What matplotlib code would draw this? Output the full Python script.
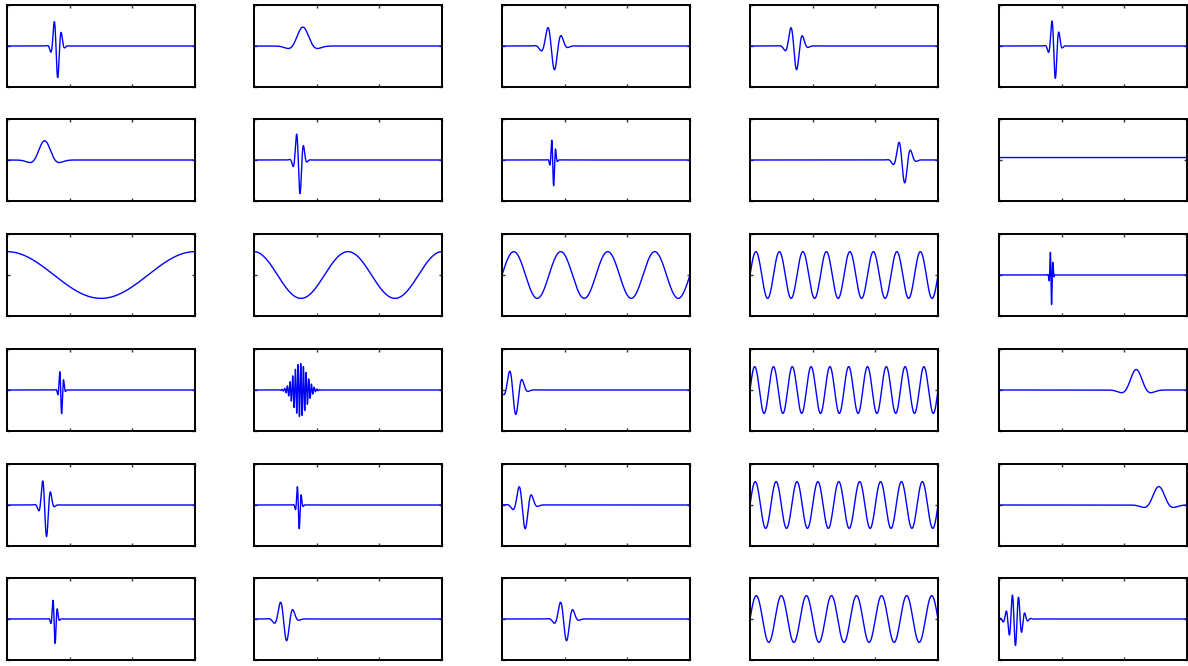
import numpy as np
import matplotlib
matplotlib.use("Agg")
import matplotlib.pyplot as plt

# Atom parameters per panel (row-major, 6 rows x 5 cols)
# amplitude, centre, envelope width (0 = no envelope), frequency (cycles/unit), phase
amps = [0.80, 0.46, 0.60, 0.60, 0.82,
        0.47, 0.85, 0.65, 0.58, 0.06,
        0.57, 0.57, 0.57, 0.57, 0.75,
        0.60, 0.65, 0.62, 0.57, 0.50,
        0.80, 0.60, 0.60, 0.57, 0.45,
        0.62, 0.55, 0.55, 0.57, 0.65]
centers = [0.265, 0.260, 0.270, 0.240, 0.295,
           0.200, 0.240, 0.272, 0.815, 0.000,
           0.000, 0.000, 0.000, 0.000, 0.278,
           0.288, 0.245, 0.065, 0.000, 0.730,
           0.205, 0.238, 0.115, 0.000, 0.850,
           0.253, 0.165, 0.335, 0.000, 0.085]
widths = [0.018, 0.045, 0.035, 0.030, 0.018,
          0.045, 0.018, 0.010, 0.030, 0.0,
          0.0, 0.0, 0.0, 0.0, 0.0064,
          0.010, 0.035, 0.032, 0.0, 0.045,
          0.020, 0.010, 0.032, 0.0, 0.045,
          0.011, 0.032, 0.032, 0.0, 0.030]
freqs = [25, 4.5, 13, 15, 25,
         4.5, 25, 45, 15, 0,
         1, 2, 4, 8, 70,
         45, 70, 14, 10, 4.5,
         22, 45, 14, 9, 4.5,
         40, 14, 14, 7.5, 30]
phases = [-2.4, 1.5708, -2.4, -2.4, -2.4,
          1.5708, -2.4, -2.4, -2.4, 1.5708,
          1.5708, 1.5708, 0.0, 0.0, -2.4,
          -2.4, 0.0, -2.4, 0.0, 1.5708,
          -2.4, -2.4, -2.4, 0.0, 1.5708,
          -2.4, -2.4, -2.4, 0.0, -2.07]

n_rows, n_cols = 6, 5
W, H = 1188, 666
col_left = [7, 254, 502, 750, 999]
row_top = [5, 119, 234, 349, 464, 578]
pw, ph = 188, 82

fig = plt.figure(figsize=(W / 100, H / 100), dpi=100)
t = np.linspace(0, 1, 1500)

for i in range(n_rows * n_cols):
    r, c = divmod(i, n_cols)
    ax = fig.add_axes([col_left[c] / W, 1 - (row_top[r] + ph) / H, pw / W, ph / H])
    A, c0, w, f, p = amps[i], centers[i], widths[i], freqs[i], phases[i]
    env = np.exp(-0.5 * ((t - c0) / w) ** 2) if w > 0 else np.ones_like(t)
    y = A * env * np.sin(2 * np.pi * f * (t - c0) + p)
    ax.plot(t, y, color="#0000ff", lw=1.0)
    ax.set_xlim(0, 1)
    ax.set_ylim(-1, 1)
    ax.set_xticks([0, 1 / 3, 2 / 3, 1])
    ax.set_yticks([-1, 0, 1])
    ax.set_xticklabels([])
    ax.set_yticklabels([])
    ax.tick_params(direction="in", length=2, width=1, top=True, right=True, color="#333333")
    for s in ax.spines.values():
        s.set_linewidth(1.4)
        s.set_color("black")

fig.savefig("out.png", dpi=100)
